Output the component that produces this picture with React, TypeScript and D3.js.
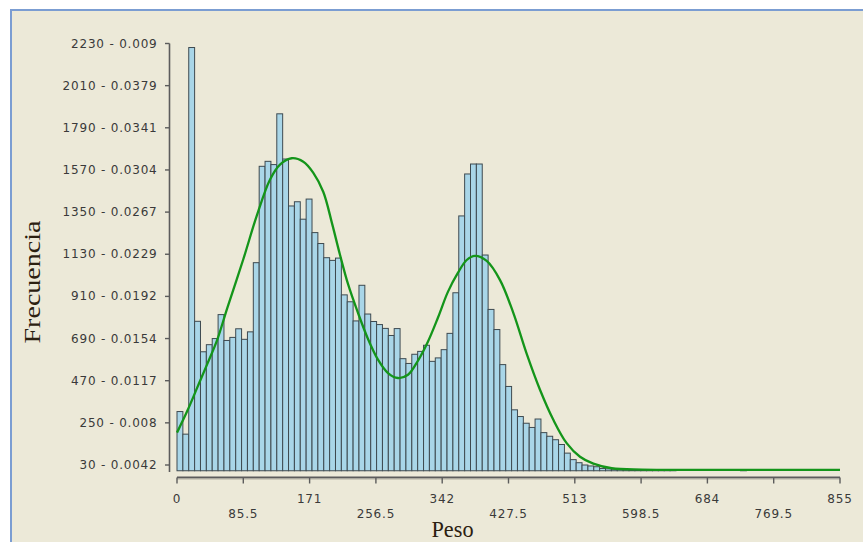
import React from "react";
import * as d3 from "d3";

// Histogram of "Peso": bin width in data units and the count of each bin
const BIN_WIDTH = 7.57;
const binCounts = [
  309, 191, 2209, 780, 621, 658, 690, 815, 680, 696,
  741, 686, 725, 1086, 1589, 1615, 1598, 1863, 1627, 1382,
  1404, 1313, 1418, 1243, 1186, 1112, 1098, 1110, 918, 882,
  782, 968, 818, 779, 763, 743, 706, 742, 585, 560,
  608, 623, 655, 571, 589, 632, 717, 929, 1330, 1549,
  1601, 1601, 1126, 842, 737, 554, 440, 318, 283, 248,
  226, 270, 199, 180, 162, 137, 92, 58, 42, 30,
  25, 21, 12, 10, 8, 7, 6, 5, 4, 4,
  3, 3, 2, 2, 2, 0, 0, 0, 0, 0,
  0, 0, 0, 0, 0, 0, 5,
];

// Fitted density curve (x in Peso units, y in frequency units)
const curveX = [
  0, 12.9, 25.8, 38.7, 51.6, 64.5, 85.5, 102.8, 120, 132.8,
  147.9, 162.9, 175.8, 188.7, 200, 210, 220.5, 233.4, 246.3, 259.2,
  272.1, 285, 297.9, 310.8, 323.7, 336.6, 349.5, 362.4, 373.6, 384.3,
  399.4, 416.6, 433.7, 451, 468.1, 485.3, 502.5, 519.7, 536.9, 560.6,
  600, 700, 855,
];
const curveY = [
  199, 309, 431, 554, 680, 845, 1104, 1330, 1520, 1598,
  1631, 1613, 1555, 1455, 1290, 1130, 975, 824, 688, 580,
  510, 484, 501, 575, 675, 800, 935, 1034, 1100, 1121,
  1095, 995, 824, 610, 423, 266, 144, 73, 37, 13,
  6, 5, 5,
];

// Axis ticks
const yTickValues = [30, 250, 470, 690, 910, 1130, 1350, 1570, 1790, 2010, 2230];
const yTickDensity = [
  "0.0042", "0.008", "0.0117", "0.0154", "0.0192", "0.0229",
  "0.0267", "0.0304", "0.0341", "0.0379", "0.009",
];
const xTickValues = [0, 85.5, 171, 256.5, 342, 427.5, 513, 598.5, 684, 769.5, 855];
const xTickLabels = ["0", "85.5", "171", "256.5", "342", "427.5", "513", "598.5", "684", "769.5", "855"];

export default function App() {
  const W = 863;
  const H = 542;

  const x = d3.scaleLinear().domain([0, 855]).range([177, 840]);
  const y = d3.scaleLinear().domain([0, 2230]).range([470.75, 43.5]);

  const curvePts: [number, number][] = curveX.map((v, i) => [v, curveY[i]]);
  const line = d3
    .line<[number, number]>()
    .x((d) => x(d[0]))
    .y((d) => y(d[1]))
    .curve(d3.curveCatmullRom.alpha(0.5));

  const axisColor = "#5c5c5c";
  const labelStyle: React.CSSProperties = {
    fontFamily: "'DejaVu Sans', sans-serif",
    fontSize: 12,
    letterSpacing: 0.8,
  };

  const axisX = 169.5;
  const axisY = 477.5;

  return (
    <svg
      width={W}
      height={H}
      style={{ position: "absolute", left: 0, top: 0, display: "block" }}
    >
      <rect x={0} y={0} width={W} height={H} fill="#ffffff" />
      <rect
        x={11}
        y={10}
        width={W + 20}
        height={H + 20}
        fill="#ECE9D8"
        stroke="#7b9dd2"
        strokeWidth={2}
      />

      {/* histogram bars */}
      <g>
        {binCounts.map((c, i) =>
          c > 0 ? (
            <rect
              key={i}
              x={x(i * BIN_WIDTH)}
              y={y(c)}
              width={x((i + 1) * BIN_WIDTH) - x(i * BIN_WIDTH)}
              height={y(0) - y(c)}
              fill="#a9d6e8"
              stroke="#3e4a50"
              strokeWidth={1}
            />
          ) : null
        )}
      </g>

      {/* fitted curve */}
      <path
        d={line(curvePts) || ""}
        fill="none"
        stroke="#14951a"
        strokeWidth={2.3}
      />

      {/* y axis */}
      <g>
        <line
          x1={axisX}
          x2={axisX}
          y1={y(2230)}
          y2={472}
          stroke={axisColor}
          strokeWidth={1.6}
        />
        {yTickValues.map((v, i) => (
          <g key={v}>
            <line
              x1={axisX - 4.5}
              x2={axisX}
              y1={y(v)}
              y2={y(v)}
              stroke={axisColor}
              strokeWidth={1.4}
            />
            <text
              x={157.5}
              y={y(v)}
              textAnchor="end"
              dominantBaseline="central"
              fill="#3a3a3a"
              style={labelStyle}
            >
              {`${v} - ${yTickDensity[i]}`}
            </text>
          </g>
        ))}
      </g>

      {/* x axis */}
      <g>
        <line
          x1={x(0)}
          x2={x(855)}
          y1={axisY}
          y2={axisY}
          stroke={axisColor}
          strokeWidth={1.8}
        />
        <line
          x1={x(0)}
          x2={x(855)}
          y1={axisY + 1.8}
          y2={axisY + 1.8}
          stroke="#c8c5b6"
          strokeWidth={1}
        />
        {xTickValues.map((v, i) => (
          <g key={v}>
            <line
              x1={x(v)}
              x2={x(v)}
              y1={axisY}
              y2={axisY + 6}
              stroke={axisColor}
              strokeWidth={1.4}
            />
            <text
              x={x(v)}
              y={i % 2 === 0 ? 498.5 : 513.5}
              textAnchor="middle"
              dominantBaseline="central"
              fill="#3a3a3a"
              style={labelStyle}
            >
              {xTickLabels[i]}
            </text>
          </g>
        ))}
      </g>

      {/* axis titles */}
      <text
        x={452.5}
        y={537}
        textAnchor="middle"
        fill="#2b2010"
        textLength={42}
        lengthAdjust="spacingAndGlyphs"
        style={{ fontFamily: "'Liberation Serif', serif", fontSize: 23 }}
      >
        Peso
      </text>
      <text
        transform="translate(40,282) rotate(-90)"
        x={0}
        y={0}
        textAnchor="middle"
        fill="#2b2010"
        textLength={123}
        lengthAdjust="spacingAndGlyphs"
        style={{ fontFamily: "'Liberation Serif', serif", fontSize: 23 }}
      >
        Frecuencia
      </text>
    </svg>
  );
}
